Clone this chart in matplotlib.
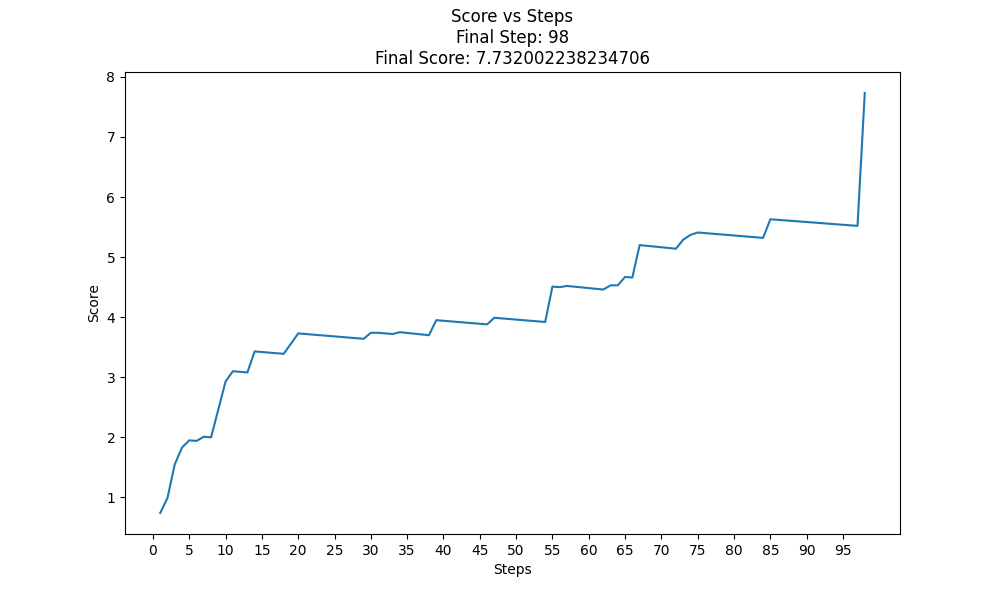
import matplotlib
matplotlib.use("Agg")
import matplotlib.pyplot as plt
import numpy as np

steps = [1, 2, 3, 4, 5, 6, 7, 8, 10, 11, 13, 14, 18, 20, 29, 30, 31, 33, 34,
         38, 39, 46, 47, 54, 55, 56, 57, 62, 63, 64, 65, 66, 67, 72, 73, 74,
         75, 84, 85, 97, 98]
scores = [0.74, 0.99, 1.55, 1.83, 1.95, 1.94, 2.01, 2.00, 2.93, 3.10, 3.08,
          3.43, 3.39, 3.73, 3.64, 3.74, 3.74, 3.72, 3.75, 3.70, 3.95, 3.88,
          3.99, 3.92, 4.51, 4.50, 4.52, 4.46, 4.53, 4.53, 4.67, 4.66, 5.20,
          5.14, 5.29, 5.37, 5.41, 5.32, 5.63, 5.52, 7.732002238234706]

fig, ax = plt.subplots(figsize=(10, 6), dpi=100)
ax.plot(steps, scores)
ax.set_xticks(np.arange(0, 100, 5))
ax.set_xlabel("Steps")
ax.set_ylabel("Score")
ax.set_title(f"Score vs Steps\nFinal Step: {steps[-1]}\nFinal Score: {scores[-1]}")
fig.savefig("out.png")
